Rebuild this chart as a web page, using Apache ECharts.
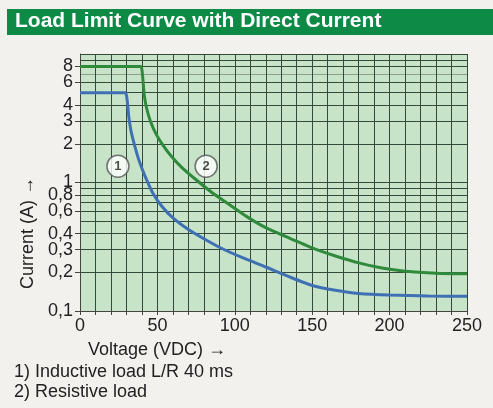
<!DOCTYPE html>
<html>
<head>
<meta charset="utf-8">
<script src="https://cdn.jsdelivr.net/npm/echarts@6/dist/echarts.min.js"></script>
<style>
  html, body { margin: 0; padding: 0; background: #f3f1ee; }
  #chart { width: 493px; height: 408px; }
</style>
</head>
<body>
<div id="chart"></div>
<script>
// curve 1) inductive load L/R 40 ms  [voltage V, current A]
const inductiveCurve = [
  [0, 5], [29.3, 5], [30.2, 4.6], [30.8, 4.0], [31.6, 3.2], [33, 2.5], [35, 2.0],
  [38, 1.5], [42, 1.12], [47, 0.83], [53, 0.65], [60, 0.53], [70, 0.43], [80, 0.365],
  [92, 0.305], [105, 0.26], [120, 0.22], [135, 0.185], [150, 0.158], [165, 0.145],
  [180, 0.137], [200, 0.133], [225, 0.131], [250, 0.13]
]
// curve 2) resistive load
const resistiveCurve = [
  [0, 8], [39.3, 8], [40.2, 7.2], [40.7, 6.2], [41.5, 4.8], [43, 3.8], [45.5, 3.0],
  [49, 2.4], [53, 2.0], [59, 1.6], [66, 1.3], [75, 1.05], [85, 0.84], [96, 0.68],
  [108, 0.54], [120, 0.445], [135, 0.37], [150, 0.31], [165, 0.268], [180, 0.237],
  [195, 0.216], [210, 0.204], [230, 0.197], [250, 0.195]
]
// circled numbers
const curveTags = [
  { name: '1', value: [24.5, 1.34] },
  { name: '2', value: [81.5, 1.34] }
]
const yGridValues = [0.1, 0.2, 0.3, 0.4, 0.5, 0.6, 0.7, 0.8, 0.9, 1, 2, 3, 4, 5, 6, 7, 8, 9, 10]
const yLabelValues = [0.1, 0.2, 0.3, 0.4, 0.6, 0.8, 1, 2, 3, 4, 6]
const yTopLabelValues = [8]
const xLabelValues = [0, 50, 100, 150, 200, 250]

const font = '"Liberation Sans", Arial, sans-serif'
const gridColor = '#34493a'
// the 7 A line is printed lighter in the original
const yGridColors = yGridValues.map(v => (v === 7 ? '#8e9c90' : gridColor))

const chart = echarts.init(document.getElementById('chart'))

function labelAxis(values) {
  return {
    type: 'log',
    logBase: 10,
    min: 0.1,
    max: 10,
    position: 'left',
    axisLine: { show: false },
    axisTick: { show: true, length: 5, customValues: values, lineStyle: { color: '#444' } },
    axisLabel: {
      color: '#222',
      fontSize: 18,
      margin: 7,
      customValues: values,
      formatter: function(v) {
        return String(+v.toPrecision(3)).replace('.', ',')
      }
    },
    splitLine: { show: false }
  }
}

const option = {
  backgroundColor: '#f3f1ee',
  animation: false,
  textStyle: { fontFamily: font },
  grid: {
    left: 80,
    right: 26,
    top: 54,
    bottom: 97,
    show: true,
    backgroundColor: '#c8e4c8',
    borderWidth: 0
  },
  xAxis: {
    type: 'value',
    min: 0,
    max: 250,
    interval: 10,
    axisLine: { show: true, lineStyle: { color: '#444', width: 1 } },
    axisTick: { show: true, length: 4, lineStyle: { color: '#444' } },
    axisLabel: {
      color: '#222',
      fontSize: 18,
      margin: 6,
      formatter: function(v) {
        return xLabelValues.indexOf(v) >= 0 ? String(v) : ''
      }
    },
    splitLine: { show: true, lineStyle: { color: gridColor, width: 1 } }
  },
  yAxis: [
    {
      type: 'log',
      logBase: 10,
      min: 0.1,
      max: 10,
      axisLine: { show: true, lineStyle: { color: '#444' } },
      axisTick: { show: false, customValues: yGridValues },
      axisLabel: { show: false, customValues: yGridValues },
      splitLine: { show: true, lineStyle: { color: yGridColors, width: 1 } }
    },
    labelAxis(yLabelValues),
    labelAxis(yTopLabelValues)
  ],
  graphic: [
    { type: 'rect', left: 7, top: 9, shape: { width: 486, height: 26 }, style: { fill: '#0c8a46' } },
    {
      type: 'text', left: 15, top: 11,
      style: { text: 'Load Limit Curve with Direct Current', fill: '#fff', font: 'bold 21px ' + font }
    },
    {
      type: 'text', left: 88, top: 341,
      style: { text: 'Voltage (VDC) \u2192', fill: '#222', font: '18px ' + font }
    },
    {
      type: 'text', x: 28, y: 233, rotation: Math.PI / 2,
      style: { text: 'Current (A) \u2192', fill: '#222', font: '18px ' + font, align: 'center', verticalAlign: 'middle' }
    },
    {
      type: 'text', left: 14, top: 363,
      style: { text: '1) Inductive load L/R 40 ms', fill: '#222', font: '18px ' + font }
    },
    {
      type: 'text', left: 14, top: 383,
      style: { text: '2) Resistive load', fill: '#222', font: '18px ' + font }
    }
  ],
  series: [
    {
      name: 'Resistive load',
      type: 'line',
      data: resistiveCurve,
      showSymbol: false,
      smooth: 0.2,
      lineStyle: { color: '#2f8a3c', width: 3 },
      z: 3
    },
    {
      name: 'Inductive load',
      type: 'line',
      data: inductiveCurve,
      showSymbol: false,
      smooth: 0.2,
      lineStyle: { color: '#3f70b4', width: 3 },
      z: 3
    },
    {
      type: 'scatter',
      data: curveTags,
      symbol: 'circle',
      symbolSize: 22,
      itemStyle: { color: '#fff', borderColor: '#555', borderWidth: 1.5 },
      label: {
        show: true,
        position: 'inside',
        formatter: '{b}',
        color: '#222',
        fontWeight: 'bold',
        fontSize: 13
      },
      z: 5
    }
  ]
}

chart.setOption(option)
</script>
</body>
</html>
